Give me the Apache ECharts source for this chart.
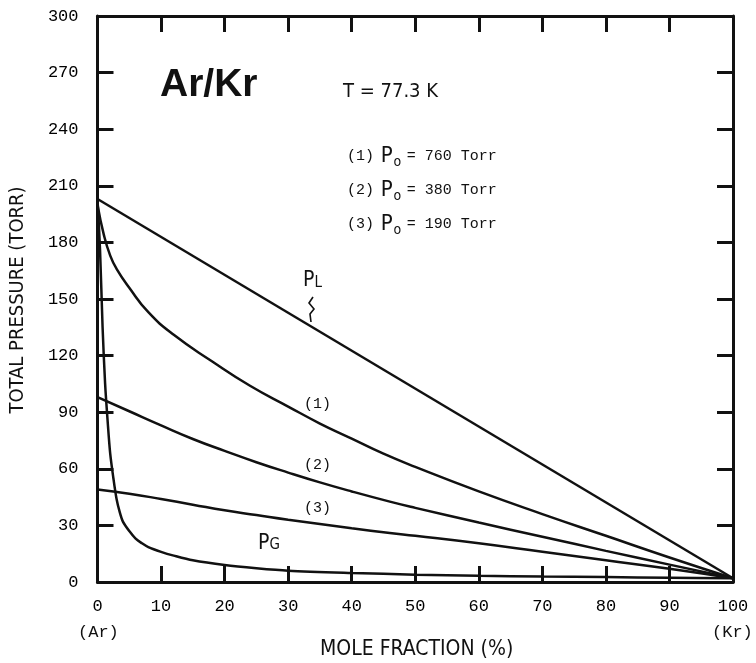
<!DOCTYPE html>
<html>
<head>
<meta charset="utf-8">
<script src="https://cdn.jsdelivr.net/npm/echarts@6/dist/echarts.min.js"></script>
<style>
  html, body { margin: 0; padding: 0; background: #fff; }
  #chart { width: 756px; height: 663px; }
</style>
</head>
<body>
<div id="chart"></div>
<script>
// mole fraction of Kr (%) vs total pressure (Torr)
const pL = [[0, 203], [100, 2]];
const pG = [[0, 203], [0.4, 176], [0.8, 135], [1.2, 105], [1.6, 85], [2.0, 68], [2.5, 55], [3, 44],
    [3.5, 37], [4, 32], [5, 27], [6, 23], [7, 20.5], [8, 18.5], [10, 16], [12, 14], [15, 11.5],
    [20, 9], [25, 7.3], [30, 6], [40, 4.8], [50, 3.9], [60, 3.3], [70, 2.9], [80, 2.6], [90, 2.3], [100, 2]];
const curve1 = [[0, 200], [1, 184], [2, 173], [3, 166], [5, 156], [8, 143], [12, 131], [18, 117],
    [24, 104], [30, 93], [35, 84], [40, 76], [45, 68], [50, 61], [60, 48], [70, 36], [80, 24.5], [90, 13], [100, 2]];
const curve2 = [[0, 98], [5, 90.5], [10, 83], [15, 75.8], [20, 69.5], [25, 63.5], [30, 58], [35, 52.8],
    [40, 48], [46, 42.6], [50, 39.3], [60, 31.5], [70, 24], [80, 16.5], [90, 9.2], [100, 2]];
const curve3 = [[0, 49], [5, 46.8], [10, 44], [15, 41], [20, 38], [25, 35.5], [30, 33], [40, 28.5],
    [46, 26], [50, 24.5], [60, 20.5], [70, 16], [80, 11.5], [90, 7], [100, 2]];

const xTicks = [0, 10, 20, 30, 40, 50, 60, 70, 80, 90, 100];
const yTicks = [0, 30, 60, 90, 120, 150, 180, 210, 240, 270, 300];
const rows = [["(1)", "760"], ["(2)", "380"], ["(3)", "190"]];

const ink = "#111";
const mono = "'Liberation Mono', 'DejaVu Sans Mono', monospace";
const cond = "'DejaVu Sans Condensed', 'DejaVu Sans', sans-serif";

const chart = echarts.init(document.getElementById("chart"));

const lineSeries = (data, smooth) => ({
    type: "line",
    data: data,
    showSymbol: false,
    symbol: "none",
    smooth: smooth,
    lineStyle: { color: ink, width: 2.5 },
    z: 3,
});

const tick = { show: true, inside: true, length: 16, lineStyle: { color: ink, width: 3 } };
const axLine = { show: true, onZero: false, lineStyle: { color: ink, width: 3 } };

const legendRows = rows.map((r, i) => ({
    type: "text",
    left: 347,
    top: 145 + i * 34,
    style: {
        text: "{m|" + r[0] + "}  {p|P}{s|o} {m|= " + r[1] + " Torr}",
        rich: {
            m: { font: "15px " + mono, fill: ink },
            p: { font: "22px " + cond, fill: ink },
            s: { font: "14px " + cond, fill: ink, padding: [12, 2, 0, 1] },
        },
    },
}));

chart.setOption({
    animation: false,
    grid: { left: 97.5, right: 23, top: 16, bottom: 81 },
    xAxis: [
        {
            type: "value", min: 0, max: 100, interval: 10,
            axisLine: axLine, axisTick: tick, splitLine: { show: false },
            axisLabel: {
                margin: 16, color: "#000", fontFamily: mono, fontSize: 17,
                formatter: (v) => (xTicks.includes(v) ? String(v) : ""),
            },
        },
        {
            type: "value", position: "top", min: 0, max: 100, interval: 10,
            axisLine: axLine, axisTick: tick, splitLine: { show: false }, axisLabel: { show: false },
        },
    ],
    yAxis: [
        {
            type: "value", min: 0, max: 300, interval: 30,
            axisLine: axLine, axisTick: tick, splitLine: { show: false },
            axisLabel: {
                margin: 19, color: "#000", fontFamily: mono, fontSize: 17,
                formatter: (v) => (yTicks.includes(v) ? String(v) : ""),
            },
        },
        {
            type: "value", position: "right", min: 0, max: 300, interval: 30,
            axisLine: axLine, axisTick: tick, splitLine: { show: false }, axisLabel: { show: false },
        },
    ],
    series: [
        lineSeries(pL, false),
        lineSeries(pG, 0.3),
        lineSeries(curve1, 0.5),
        lineSeries(curve2, 0.5),
        lineSeries(curve3, 0.5),
    ],
    graphic: [
        { type: "text", left: 160, top: 66, style: { text: "Ar/Kr", font: "bold 39px 'Liberation Sans', Arial, sans-serif", fill: ink } },
        { type: "text", left: 343, top: 82, style: { text: "T = 77.3 K", font: "20px " + cond, fill: ink } },
        ...legendRows,
        { type: "text", left: 304, top: 397, style: { text: "(1)", font: "15px " + mono, fill: ink } },
        { type: "text", left: 304, top: 458, style: { text: "(2)", font: "15px " + mono, fill: ink } },
        { type: "text", left: 304, top: 501, style: { text: "(3)", font: "15px " + mono, fill: ink } },
        {
            type: "text", left: 258, top: 533,
            style: { text: "{p|P}{g|G}", rich: { p: { font: "21px " + cond, fill: ink }, g: { font: "15px " + cond, fill: ink, padding: [4, 0, 0, 0] } } },
        },
        {
            type: "text", left: 303, top: 270,
            style: { text: "{p|P}{l|L}", rich: { p: { font: "21px " + cond, fill: ink }, l: { font: "15px " + cond, fill: ink, padding: [6, 0, 0, 0] } } },
        },
        {
            type: "polyline",
            shape: { points: [[313, 297], [309, 303], [314, 309], [310, 314], [311, 322]] },
            style: { stroke: ink, lineWidth: 1.6, fill: null },
        },
        { type: "text", left: 78, top: 624, style: { text: "(Ar)", font: "17px " + mono, fill: ink } },
        { type: "text", left: 712, top: 624, style: { text: "(Kr)", font: "17px " + mono, fill: ink } },
        { type: "text", left: 320, top: 639, style: { text: "MOLE FRACTION (%)", font: "21px " + cond, fill: ink } },
        {
            type: "text", x: 18, y: 300, rotation: Math.PI / 2,
            style: { text: "TOTAL PRESSURE (TORR)", font: "20px " + cond, fill: ink, align: "center", verticalAlign: "middle" },
        },
    ],
});
</script>
</body>
</html>
